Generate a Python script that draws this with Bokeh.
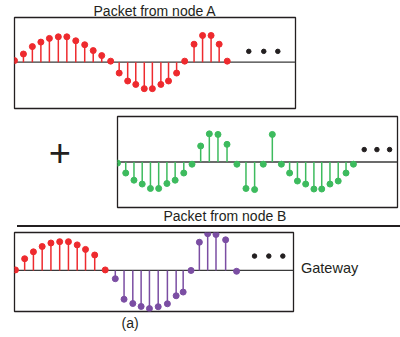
from bokeh.plotting import figure
from bokeh.layouts import column, row
from bokeh.models import Range1d, Span, Div, Title
from bokeh.embed import file_html
from bokeh.resources import INLINE
from bokeh.core.properties import value

# ---------------- data ----------------
# Packet from node A (sample positions, amplitudes)
a_x = [0, 1.05, 2.1, 3.1, 4.1, 5.15, 6.15, 7.2, 8.25, 9.25, 10.25, 11.3, 12.3,
       13.3, 14.25, 15.25, 16.2, 17.2, 18.1, 19.05, 20.0, 21.1, 22.1, 23.1, 24.05, 25.0]
a_y = [0.06, 0.31, 0.59, 0.76, 0.9, 0.96, 0.96, 0.81, 0.66, 0.44, 0.25, 0.04, -0.41,
       -0.71, -0.84, -1.0, -1.0, -0.84, -0.71, -0.41, 0.04, 0.68, 1.01, 1.01, 0.68, 0.04]
a_more_x = [27.53, 29.29, 30.94]
a_more_y = [0.41, 0.41, 0.41]

# Packet from node B
b_x = [0, 1, 2, 3, 4, 5, 6, 7, 8.05, 9.05, 10.1, 11.15, 12.2, 13.3, 14.5, 15.6, 16.65,
       17.7, 18.8, 19.9, 20.9, 21.85, 22.85, 23.85, 24.8, 25.8, 26.8, 27.75, 28.65]
b_y = [-0.04, -0.4, -0.66, -0.8, -0.96, -0.96, -0.78, -0.66, -0.4, -0.08, 0.58, 1.02, 1.0,
       0.64, -0.08, -0.96, -1.0, -0.08, 1.0, -0.08, -0.4, -0.69, -0.8, -0.98, -0.98, -0.8,
       -0.69, -0.4, -0.08]
b_more_x = [29.96, 31.5, 33.04]
b_more_y = [0.45, 0.45, 0.45]

# Gateway (received superposition)
gw_red_x = [0, 1.05, 2.05, 3.05, 4.05, 5.05, 6.05, 7.05, 8.0, 9.05, 10.25]
gw_red_y = [0.02, 0.44, 0.7, 0.9, 1.03, 1.08, 1.08, 0.96, 0.79, 0.58, 0.02]
gw_purple_x = [11.4, 12.4, 13.4, 14.35, 15.3, 16.3, 17.35, 18.35, 19.15, 20.05, 21.0,
               21.95, 22.9, 24.0, 25.25]
gw_purple_y = [-0.31, -1.08, -1.24, -1.35, -1.43, -1.36, -1.25, -0.95, -0.81, 0.0, 1.06,
               1.38, 1.35, 1.15, -0.03]
gw_more_x = [27.3, 28.93, 30.53]
gw_more_y = [0.54, 0.54, 0.54]

title_a = "Packet from node A"
title_b = "Packet from node B"
label_gw = "Gateway"
label_sub = "(a)"

RED = "#ee2a2e"
GREEN = "#3dbb5e"
PURPLE = "#7b4ea3"
INK = "#231f20"
FONT = "Liberation Sans"


def panel(fw, fh, xr, yr, left, right, top, bottom):
    p = figure(frame_width=fw, frame_height=fh, x_range=Range1d(*xr), y_range=Range1d(*yr),
               x_axis_location=None, y_axis_location=None, toolbar_location=None,
               output_backend="svg", min_border_left=left, min_border_right=right,
               min_border_top=top, min_border_bottom=bottom)
    p.grid.visible = False
    p.outline_line_color = INK
    p.outline_line_width = 1.3
    p.background_fill_color = "white"
    p.border_fill_color = "white"
    p.add_layout(Span(location=0, dimension="width", line_color="#3a3a3a",
                      line_width=1.3, level="underlay"))
    return p


def stems(p, xs, ys, color):
    p.segment(x0=xs, y0=[0] * len(xs), x1=xs, y1=ys, line_color=color, line_width=1.5)
    p.scatter(xs, ys, size=6, fill_color=color, line_color=color)


def dots(p, xs, ys):
    p.scatter(xs, ys, size=4.5, fill_color=INK, line_color=INK)


def title(text, align, offset, standoff):
    return Title(text=text, align=align, offset=offset, standoff=standoff,
                 text_font=FONT, text_font_size="14px", text_font_style="normal",
                 text_color=INK)


# Panel A
pa = panel(281, 91, (0, 33.02), (-1.75, 1.69), 14, 105, 17, 2)
pa.add_layout(title(title_a, "center", 4, -2), "above")
stems(pa, a_x, a_y, RED)
dots(pa, a_more_x, a_more_y)

# plus sign
pp = figure(width=100, height=115, x_range=Range1d(0, 100), y_range=Range1d(0, 115),
            x_axis_location=None, y_axis_location=None, toolbar_location=None,
            output_backend="svg", min_border=0)
pp.grid.visible = False
pp.outline_line_color = None
pp.text(x=[59.3], y=[70], text=["+"], text_font=value(FONT), text_font_size="38px",
        text_align="center", text_baseline="middle", text_color=INK)

# Panel B
pb = panel(280, 91, (0, 34.0), (-1.65, 1.65), 17, 3, 6, 18)
pb.add_layout(title(title_b, "left", 46, -3), "below")
stems(pb, b_x, b_y, GREEN)
dots(pb, b_more_x, b_more_y)

line = Div(text="", width=383, height=2, margin=(0, 0, 0, 17),
           styles={"background-color": INK})

# Panel C
pc = panel(279, 79, (-0.11, 31.75), (-1.54, 1.425), 14, 3, 5, 24)
pc.add_layout(title(label_sub, "left", 107, 3), "below")
stems(pc, gw_red_x, gw_red_y, RED)
stems(pc, gw_purple_x, gw_purple_y, PURPLE)
dots(pc, gw_more_x, gw_more_y)

gw = Div(text=label_gw, width=90, height=20, margin=(31, 0, 0, 5),
         styles={"font-size": "14.5px", "font-family": FONT, "color": INK})

layout = column(pa, row(pp, pb), line, row(pc, gw))
open("out.html", "w").write(file_html(layout, INLINE))
